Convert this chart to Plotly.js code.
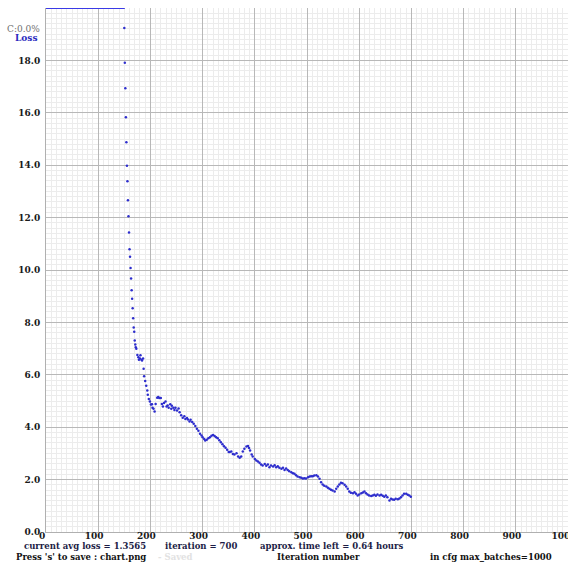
<!DOCTYPE html>
<html>
<head>
<meta charset="utf-8">
<script src="https://cdn.plot.ly/plotly-3.0.1.min.js"></script>
<style>
html,body{margin:0;padding:0;background:#fff;}
#chart{width:568px;height:563px;}
</style>
</head>
<body>
<div id="chart"></div>
<script>
// Iteration numbers and average loss
const iterations = [
  150,151,152,153,154,155,156,157,158,159,160,161,162,163,164,165,166,167,168,169,170,171,172,173,
  175,177,178,180,181,183,184,186,187,188,190,192,194,195,197,199,201,203,204,206,208,210,213,215,217,220,
  222,224,226,229,231,233,235,238,240,241,244,246,248,251,254,256,259,262,265,267,270,272,275,277,280,
  283,286,289,292,295,298,300,303,305,308,311,314,317,320,323,326,329,332,335,338,341,344,347,350,
  352,355,358,361,365,368,371,374,377,380,384,387,389,391,394,396,400,403,406,409,412,415,419,422,425,
  428,431,435,438,441,444,447,451,454,457,460,463,466,470,473,476,479,482,486,489,492,495,498,502,505,
  508,511,514,518,521,524,527,530,533,537,540,543,546,549,553,556,559,562,565,568,572,575,578,581,584,
  588,591,594,597,600,604,607,610,613,616,619,623,626,629,632,635,639,642,645,648,651,654,658,661,664,
  667,670,674,677,680,683,686,690,693,696,699
];
const avgLoss = [
  19.24,17.91,16.94,15.83,14.88,13.98,13.39,12.66,12.05,11.43,10.79,10.51,10.08,9.68,9.23,8.90,8.54,8.16,7.81,7.64,7.31,7.16,7.05,6.99,
  6.76,6.67,6.57,6.62,6.75,6.57,6.55,6.62,6.23,5.94,5.76,5.58,5.40,5.24,5.08,4.98,4.87,4.88,4.74,4.70,4.60,4.89,5.12,5.15,5.11,5.11,
  4.89,4.79,4.92,4.98,4.79,4.83,4.74,4.88,4.70,4.82,4.74,4.66,4.74,4.64,4.71,4.57,4.46,4.36,4.42,4.31,4.35,4.29,4.22,4.28,4.20,
  4.13,4.05,3.94,3.86,3.75,3.68,3.62,3.55,3.49,3.52,3.58,3.62,3.67,3.70,3.66,3.62,3.58,3.50,3.43,3.35,3.27,3.22,3.14,3.05,
  3.05,3.07,2.98,2.96,3.01,2.88,2.83,2.88,3.07,3.18,3.26,3.28,3.21,3.11,2.96,2.88,2.79,2.73,2.69,2.64,2.58,2.54,2.60,2.53,2.58,
  2.47,2.54,2.50,2.55,2.47,2.51,2.45,2.41,2.45,2.37,2.42,2.37,2.32,2.28,2.24,2.22,2.17,2.12,2.09,2.07,2.04,2.05,2.04,2.09,2.12,
  2.13,2.13,2.16,2.17,2.12,2.03,1.90,1.81,1.77,1.74,1.69,1.65,1.61,1.58,1.55,1.65,1.74,1.81,1.88,1.86,1.80,1.74,1.65,1.55,1.50,
  1.48,1.52,1.46,1.39,1.43,1.48,1.51,1.55,1.48,1.43,1.39,1.37,1.39,1.42,1.38,1.43,1.39,1.42,1.38,1.35,1.39,1.33,1.20,1.27,1.24,
  1.23,1.27,1.25,1.28,1.33,1.39,1.46,1.46,1.42,1.39,1.35
];
// Top blue bar (loss clipped at top of chart range)
const topBarX = [0, 151];
const topBarY = [20, 20];

const xTickVals = [0,100,200,300,400,500,600,700,800,900,1000];
const yTickVals = [0,2,4,6,8,10,12,14,16,18];

const statusLine1 = [
  {text: "current avg loss = 1.3565", px: 22},
  {text: "iteration = 700", px: 163},
  {text: "approx. time left = 0.64 hours", px: 258}
];
const statusLine2 = [
  {text: "Press 's' to save : chart.png", px: 14, color: "#111111"},
  {text: "- Saved", px: 156, color: "#e2e2e2"},
  {text: "Iteration number", px: 275, color: "#111111"},
  {text: "in cfg max_batches=1000", px: 428, color: "#111111"}
];

const L = 46, T = 8, W = 522, H = 524;
function px2paperX(p){ return (p - L) / W; }
function py2paperY(p){ return (T + H - p) / H; }

const FAM = "DejaVu Serif, Liberation Serif, serif";

const annotations = [];
statusLine1.forEach(s => annotations.push({
  xref: "paper", yref: "paper", x: px2paperX(s.px), y: py2paperY(546),
  xanchor: "left", yanchor: "middle", showarrow: false, text: "<b>" + s.text + "</b>",
  font: {family: FAM, size: 8.5, color: "#1c1c45"}
}));
statusLine2.forEach(s => annotations.push({
  xref: "paper", yref: "paper", x: px2paperX(s.px), y: py2paperY(556.5),
  xanchor: "left", yanchor: "middle", showarrow: false, text: "<b>" + s.text + "</b>",
  font: {family: FAM, size: 8.5, color: s.color}
}));
annotations.push({
  xref: "paper", yref: "paper", x: px2paperX(42), y: py2paperY(29),
  xanchor: "right", yanchor: "middle", showarrow: false, text: "C:0.0%",
  font: {family: FAM, size: 9, color: "#707070"}
});
annotations.push({
  xref: "paper", yref: "paper", x: px2paperX(39), y: py2paperY(38),
  xanchor: "right", yanchor: "middle", showarrow: false, text: "<b>Loss</b>",
  font: {family: FAM, size: 9, color: "#2a2ac0"}
});

const traces = [
  {
    x: topBarX, y: topBarY, mode: "lines", type: "scatter",
    line: {color: "#3a3ae6", width: 2}, hoverinfo: "skip", showlegend: false
  },
  {
    x: iterations, y: avgLoss, mode: "markers", type: "scatter",
    marker: {color: "rgb(45,45,205)", size: 2.5, line: {width: 0}},
    showlegend: false
  }
];

const tickFont = {family: FAM, size: 9, color: "#1a1a1a", weight: "bold"};

const layout = {
  width: 568, height: 563,
  margin: {l: L, r: 0, t: T, b: 563 - T - H, pad: 0},
  paper_bgcolor: "#ffffff", plot_bgcolor: "#ffffff",
  showlegend: false,
  xaxis: {
    range: [0, 1000], tickvals: xTickVals, ticktext: xTickVals.map(String),
    showgrid: true, gridcolor: "#b8b8b8", gridwidth: 1,
    zeroline: false, showline: true, linecolor: "#b0b0b0", linewidth: 1,
    ticks: "", ticklabelstandoff: -5, ticklabelshift: -4, ticklabeloverflow: "allow",
    tickfont: tickFont,
    minor: {dtick: 10, showgrid: true, gridcolor: "#ececec", gridwidth: 1},
    fixedrange: true
  },
  yaxis: {
    range: [0, 20], tickvals: yTickVals, ticktext: yTickVals.map(v => v.toFixed(1)),
    showgrid: true, gridcolor: "#b8b8b8", gridwidth: 1,
    zeroline: false, showline: true, linecolor: "#b0b0b0", linewidth: 1,
    ticks: "", ticklabelstandoff: 3,
    tickfont: tickFont,
    minor: {dtick: 0.2, showgrid: true, gridcolor: "#ececec", gridwidth: 1},
    fixedrange: true
  },
  annotations: annotations
};

Plotly.newPlot("chart", traces, layout, {displayModeBar: false, staticPlot: true});
</script>
</body>
</html>
